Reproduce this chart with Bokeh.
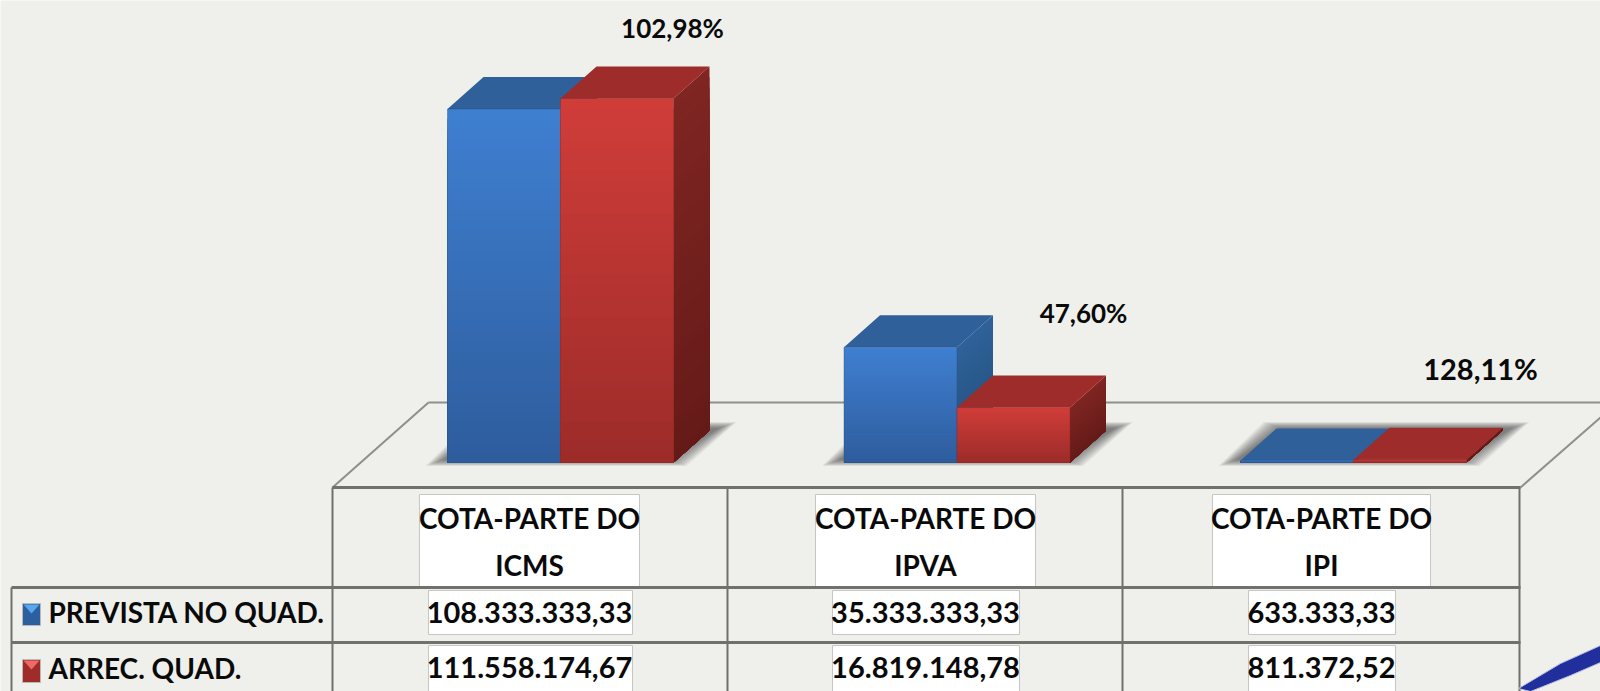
from bokeh.plotting import figure
from bokeh.embed import file_html
from bokeh.resources import INLINE
from bokeh.core.properties import value as V

categories = ["COTA-PARTE DO\nICMS", "COTA-PARTE DO\nIPVA", "COTA-PARTE DO\nIPI"]
prevista = [108333333.33, 35333333.33, 633333.33]
arrecadada = [111558174.67, 16819148.78, 811372.52]
prevista_labels = ["108.333.333,33", "35.333.333,33", "633.333,33"]
arrecadada_labels = ["111.558.174,67", "16.819.148,78", "811.372,52"]
percent_labels = ["102,98%", "47,60%", "128,11%"]
series_names = ["PREVISTA NO QUAD.", "ARREC. QUAD."]

BG = "#eff0ec"
LINE = "#6f716d"
FLOOR = "#8d8f8b"
FONT = "Lato"
BASELINE_SHIFT = 0.42  # of the font size, to place the texts on their baselines

# layout of the drawing, in window pixels
X0, SPACING, BASE, K = 560.0, 396.5, 462.0, 364.0 / 111.558
def X(px): return (px - X0) / SPACING
def Y(py): return (BASE - py) / K
def W(px): return px / SPACING
def H(px): return px / K

p = figure(width=1600, height=691, x_range=(X(0), X(1600)), y_range=(Y(691), Y(0)),
           output_backend="svg", toolbar_location=None, min_border=0,
           background_fill_color=BG, border_fill_color=BG, outline_line_color=None)
p.axis.visible = False
p.grid.visible = False

def seg(x0, y0, x1, y1, color=LINE, w=2):
    p.line([X(x0), X(x1)], [Y(y0), Y(y1)], line_color=color, line_width=w)

def mix(a, b, t):
    ca = [int(a[i:i + 2], 16) for i in (1, 3, 5)]
    cb = [int(b[i:i + 2], 16) for i in (1, 3, 5)]
    return "#%02x%02x%02x" % tuple(round(u + (v - u) * t) for u, v in zip(ca, cb))

# floor
seg(428, 402, 1600, 402, FLOOR)
seg(428, 402, 332, 487, FLOOR)
seg(1520, 487, 1600, 417, FLOOR)

# shadows on the floor
for i in range(3):
    xa = i - W(113)
    xb = i + W(113)
    for s in range(14):
        g = 7 - s * 1.4
        p.patch([xa - W(15 + g), xb + W(6 + g), xb + W(56 + g), xa + W(30 - g)],
                [Y(463 + g * 0.35), Y(463 + g * 0.35), Y(424 - g * 0.35), Y(424 - g * 0.35)],
                fill_color="#4a4b47", fill_alpha=0.07, line_color=None)

DX, DY = W(36), H(32)
BW = W(113)
N = 36

def bar(x0, v, front_top, front_bot, side_top, side_bot, top_col, edge):
    x1 = x0 + BW
    # side, darker going down
    for s in range(N):
        t = s / (N - 1)
        h = v * (1 - t)
        p.patch([x1, x1 + DX, x1 + DX, x1],
                [0, DY, DY + h, h],
                fill_color=mix(side_bot, side_top, 1 - t), line_color=None)
    # top
    p.patch([x0, x1, x1 + DX, x0 + DX], [v, v, v + DY, v + DY],
            fill_color=top_col, line_color=None)
    # front, painted from tallest to shortest so that no seam shows
    for s in range(N):
        t = s / (N - 1)
        p.quad(left=x0, right=x1, bottom=0, top=v * (1 - t),
               fill_color=mix(front_top, front_bot, t), line_color=None)
    p.quad(left=x0, right=x1, bottom=0, top=v, fill_color=None,
           line_color=edge, line_alpha=0.4, line_width=1)

for i in range(3):
    bar(i - BW, prevista[i] / 1e6, "#3f7fd0", "#2d5c9c", "#2e6299", "#234d7c", "#2f6099", "#24507f")
    bar(float(i), arrecadada[i] / 1e6, "#d03d39", "#9b2b29", "#7f2522", "#651a18", "#9e2c2a", "#8a2523")

# table: white cells behind the texts
def box(x0, y0, x1, y1):
    p.quad(left=X(x0), right=X(x1), bottom=Y(y1), top=Y(y0), fill_color="#ffffff",
           line_color="#c6c7c4", line_width=1)

for x0, x1 in ((419, 639), (815, 1035), (1212, 1430)):
    box(x0, 494, x1, 586)
for y0, y1 in ((590, 634), (645, 695)):
    for x0, x1 in ((428, 632), (832, 1019), (1248, 1395)):
        box(x0, y0, x1, y1)

# table: rules
seg(332, 487, 1520, 487, LINE, 3)
seg(11, 587, 1520, 587, LINE, 3)
seg(11, 642, 1520, 642, LINE, 3)
seg(11, 587, 11, 695, LINE, 2)
for x in (332, 727, 1122, 1519):
    seg(x, 487, x, 695, LINE, 2)

def txt(x, y, s, size, align="center"):
    p.text(x=[X(x)], y=[Y(y - BASELINE_SHIFT * size)], text=[s], text_font=V(FONT),
           text_font_size=f"{size}px", text_font_style="bold", text_color="#0a0a0a",
           text_align=align, text_baseline="alphabetic")

# category labels and values
for i, c in enumerate(categories):
    cx = (529, 925, 1321)[i]
    a, b = c.split("\n")
    txt(cx, 529, a, 28)
    txt(cx, 576, b, 28)
    txt(cx, 624, prevista_labels[i], 29)
    txt(cx, 679, arrecadada_labels[i], 29)

# percentages
txt(672, 38, percent_labels[0], 26)
txt(1083, 323, percent_labels[1], 26)
txt(1480, 380, percent_labels[2], 29)

# legend
for (y0, y1, base, name, dark, light) in ((603, 625, 623, series_names[0], "#2c5f9f", "#58a6ec"),
                                          (659, 682, 679, series_names[1], "#a02c2a", "#ee6a66")):
    p.quad(left=X(22), right=X(40), bottom=Y(y1), top=Y(y0), fill_color=dark,
           line_color="#b9bab7", line_width=1)
    p.patch([X(23), X(39), X(31)], [Y(y0 + 1), Y(y0 + 1), Y(y0 + 10)],
            fill_color=light, line_color=None)
    txt(48, base, name, 28, "left")

# the curved band in the corner
p.patch([X(1518), X(1560), X(1600), X(1600), X(1570), X(1530)],
        [Y(688), Y(663), Y(645), Y(662), Y(675), Y(691)],
        fill_color="#202f9b", line_color="#b9bfe0", line_width=1)

open("out.html", "w").write(file_html(p, INLINE))
